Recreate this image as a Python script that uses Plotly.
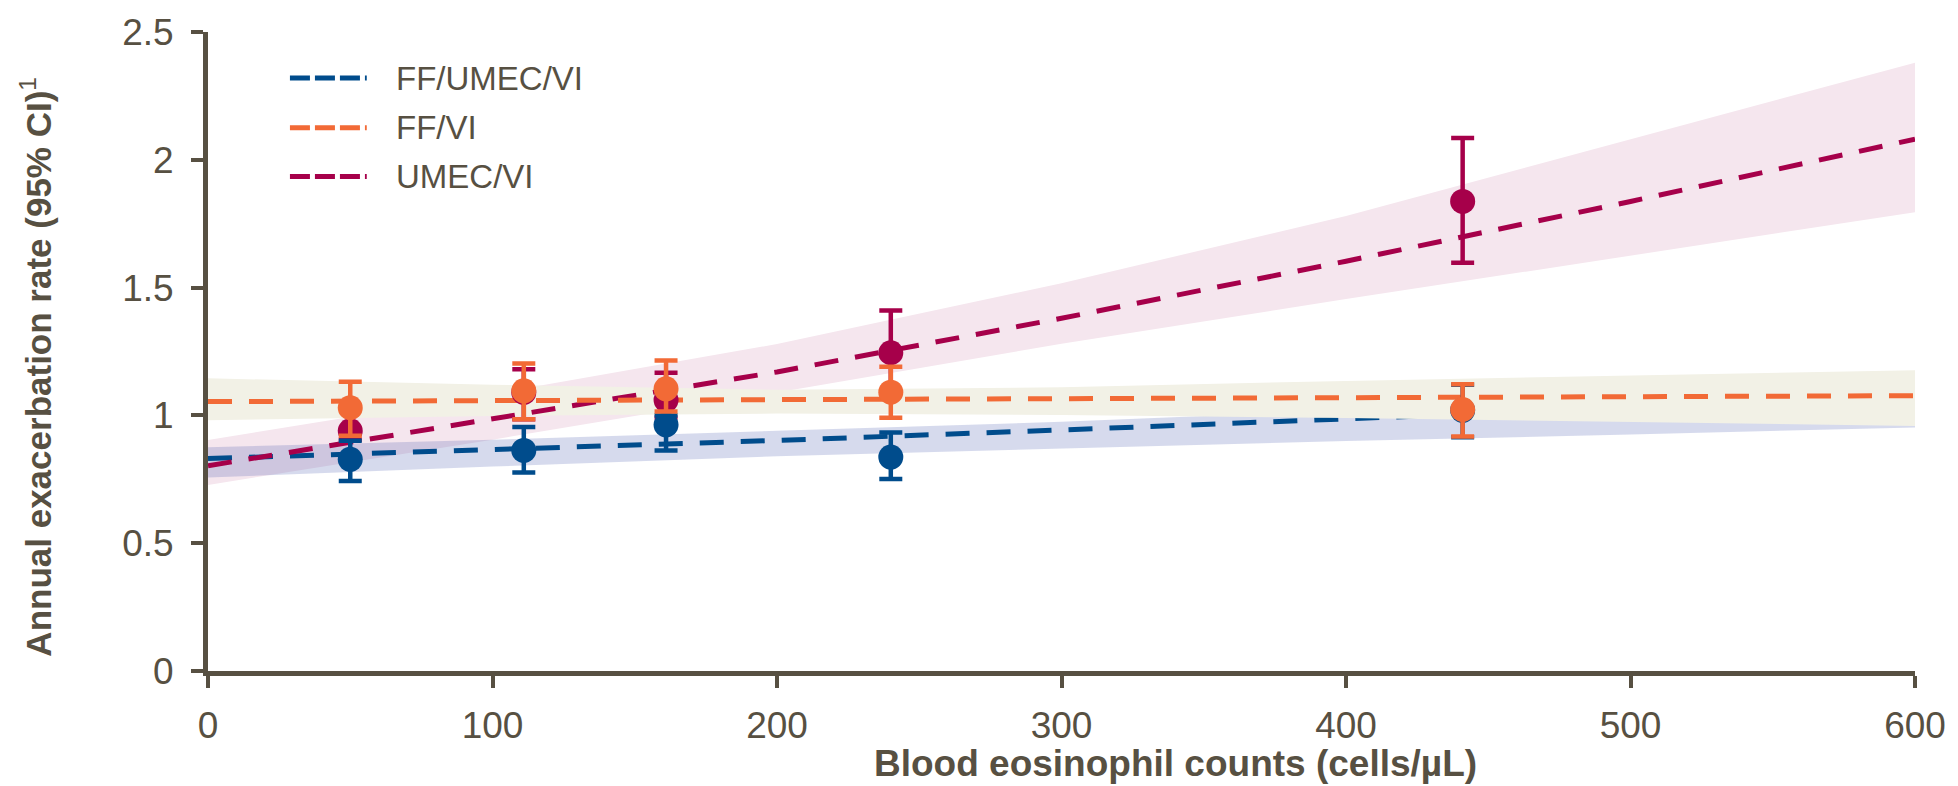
import plotly.graph_objects as go

# ---- data ----
fit_x = [0, 100, 200, 300, 400, 500, 600]

# FF/UMEC/VI (blue)
blue_fit = [0.831, 0.865, 0.902, 0.943, 0.985, 1.030, 1.075]
blue_upper = [0.875, 0.905, 0.940, 0.975, 1.020, 1.070, 1.120]
blue_lower = [0.757, 0.800, 0.840, 0.870, 0.900, 0.925, 0.953]

# FF/VI (orange)
orange_fit = [1.054, 1.058, 1.062, 1.065, 1.068, 1.072, 1.077]
orange_upper = [1.145, 1.120, 1.100, 1.110, 1.135, 1.155, 1.177]
orange_lower = [0.981, 0.998, 1.007, 1.002, 0.990, 0.975, 0.959]

# UMEC/VI (magenta)
pink_fit = [0.803, 0.986, 1.170, 1.380, 1.603, 1.837, 2.081]
pink_upper = [0.904, 1.084, 1.279, 1.517, 1.780, 2.080, 2.380]
pink_lower = [0.728, 0.905, 1.090, 1.280, 1.455, 1.625, 1.795]

pt_x = [50, 111, 161, 240, 441]

blue_y = [0.828, 0.863, 0.963, 0.837, 1.020]
blue_lo = [0.743, 0.777, 0.863, 0.751, 0.915]
blue_hi = [0.901, 0.955, 1.000, 0.933, 1.120]

orange_y = [1.030, 1.096, 1.104, 1.091, 1.023]
orange_lo = [0.920, 0.985, 1.015, 0.991, 0.917]
orange_hi = [1.132, 1.203, 1.215, 1.190, 1.122]

pink_y = [0.940, 1.090, 1.060, 1.245, 1.837]
pink_lo = [0.905, 0.985, 0.992, 1.090, 1.597]
pink_hi = [1.030, 1.181, 1.167, 1.410, 2.085]

series_names = ["FF/UMEC/VI", "FF/VI", "UMEC/VI"]

# ---- styles ----
BLUE = "#004C8C"
ORANGE = "#F26A36"
PINK = "#A6004A"
AXIS = "#575042"
FONT = "Liberation Sans, Arial, sans-serif"
DASH = "24px,17px"

fig = go.Figure()


def band(upper, lower, color):
    fig.add_trace(go.Scatter(
        x=fit_x + fit_x[::-1], y=upper + lower[::-1],
        fill="toself", fillcolor=color, mode="lines",
        line=dict(width=0, color=color), hoverinfo="skip", showlegend=False))


def fitline(y, color, name):
    fig.add_trace(go.Scatter(
        x=fit_x, y=y, mode="lines", name=name,
        line=dict(color=color, width=5, dash=DASH), showlegend=False))


def points(y, lo, hi, color, name):
    fig.add_trace(go.Scatter(
        x=pt_x, y=y, mode="markers", name=name,
        marker=dict(color=color, size=25, symbol="circle"),
        error_y=dict(type="data", symmetric=False,
                     array=[h - v for h, v in zip(hi, y)],
                     arrayminus=[v - l for v, l in zip(y, lo)],
                     color=color, thickness=4.5, width=11.5),
        showlegend=False))


band(pink_upper, pink_lower, "#F5E6EE")
band(blue_upper, blue_lower, "rgba(70,85,175,0.22)")
fitline(blue_fit, BLUE, series_names[0])
band(orange_upper, orange_lower, "#F2F1E6")
fitline(pink_fit, PINK, series_names[2])
fitline(orange_fit, ORANGE, series_names[1])
points(pink_y, pink_lo, pink_hi, PINK, series_names[2])
points(blue_y, blue_lo, blue_hi, BLUE, series_names[0])
points(orange_y, orange_lo, orange_hi, ORANGE, series_names[1])

# ---- custom legend (long dashed samples) ----
legend_colors = [BLUE, ORANGE, PINK]
legend_rows = [0.928, 0.85, 0.774]
shapes = []
annotations = []
for name, col, ry in zip(series_names, legend_colors, legend_rows):
    shapes.append(dict(type="line", xref="paper", yref="paper",
                       x0=0.048, x1=0.093, y0=ry, y1=ry,
                       line=dict(color=col, width=5, dash="20px,5px")))
    annotations.append(dict(xref="paper", yref="paper", x=0.109, y=ry,
                            xanchor="left", yanchor="middle", showarrow=False,
                            text=name, font=dict(family=FONT, size=33, color=AXIS)))

annotations.append(dict(xref="paper", yref="paper", x=0.567, y=-0.145,
                        xanchor="center", yanchor="middle", showarrow=False,
                        text="<b>Blood eosinophil counts (cells/µL)</b>",
                        font=dict(family=FONT, size=37, color=AXIS)))
annotations.append(dict(xref="paper", yref="paper", x=-0.1005, y=0.477,
                        xanchor="center", yanchor="middle", showarrow=False,
                        textangle=-90,
                        text="<b>Annual exacerbation rate (95% CI)</b><sup>1</sup>",
                        font=dict(family=FONT, size=35, color=AXIS)))

axis_common = dict(showline=True, linecolor=AXIS, linewidth=5, ticks="outside",
                   ticklen=12, tickwidth=4, tickcolor=AXIS, showgrid=False,
                   zeroline=False, ticklabeloverflow="allow",
                   tickfont=dict(family=FONT, size=37, color=AXIS))

fig.update_layout(
    width=1958, height=786,
    margin=dict(l=208, r=40, t=24, b=115),
    plot_bgcolor="white", paper_bgcolor="white",
    showlegend=False,
    shapes=shapes, annotations=annotations,
    xaxis=dict(range=[0, 600], tickvals=[0, 100, 200, 300, 400, 500, 600],
               ticklabelstandoff=6, **axis_common),
    yaxis=dict(range=[0, 2.5], tickvals=[0, 0.5, 1, 1.5, 2, 2.5],
               ticktext=["0", "0.5", "1", "1.5", "2", "2.5"],
               ticklabelstandoff=10, **axis_common),
)

fig.write_html(
    "out.html",
    config={"displayModeBar": False},
    post_script=("document.body.style.margin='0';"
                 "document.body.style.overflow='hidden';"
                 "document.documentElement.style.overflow='hidden';"),
)
